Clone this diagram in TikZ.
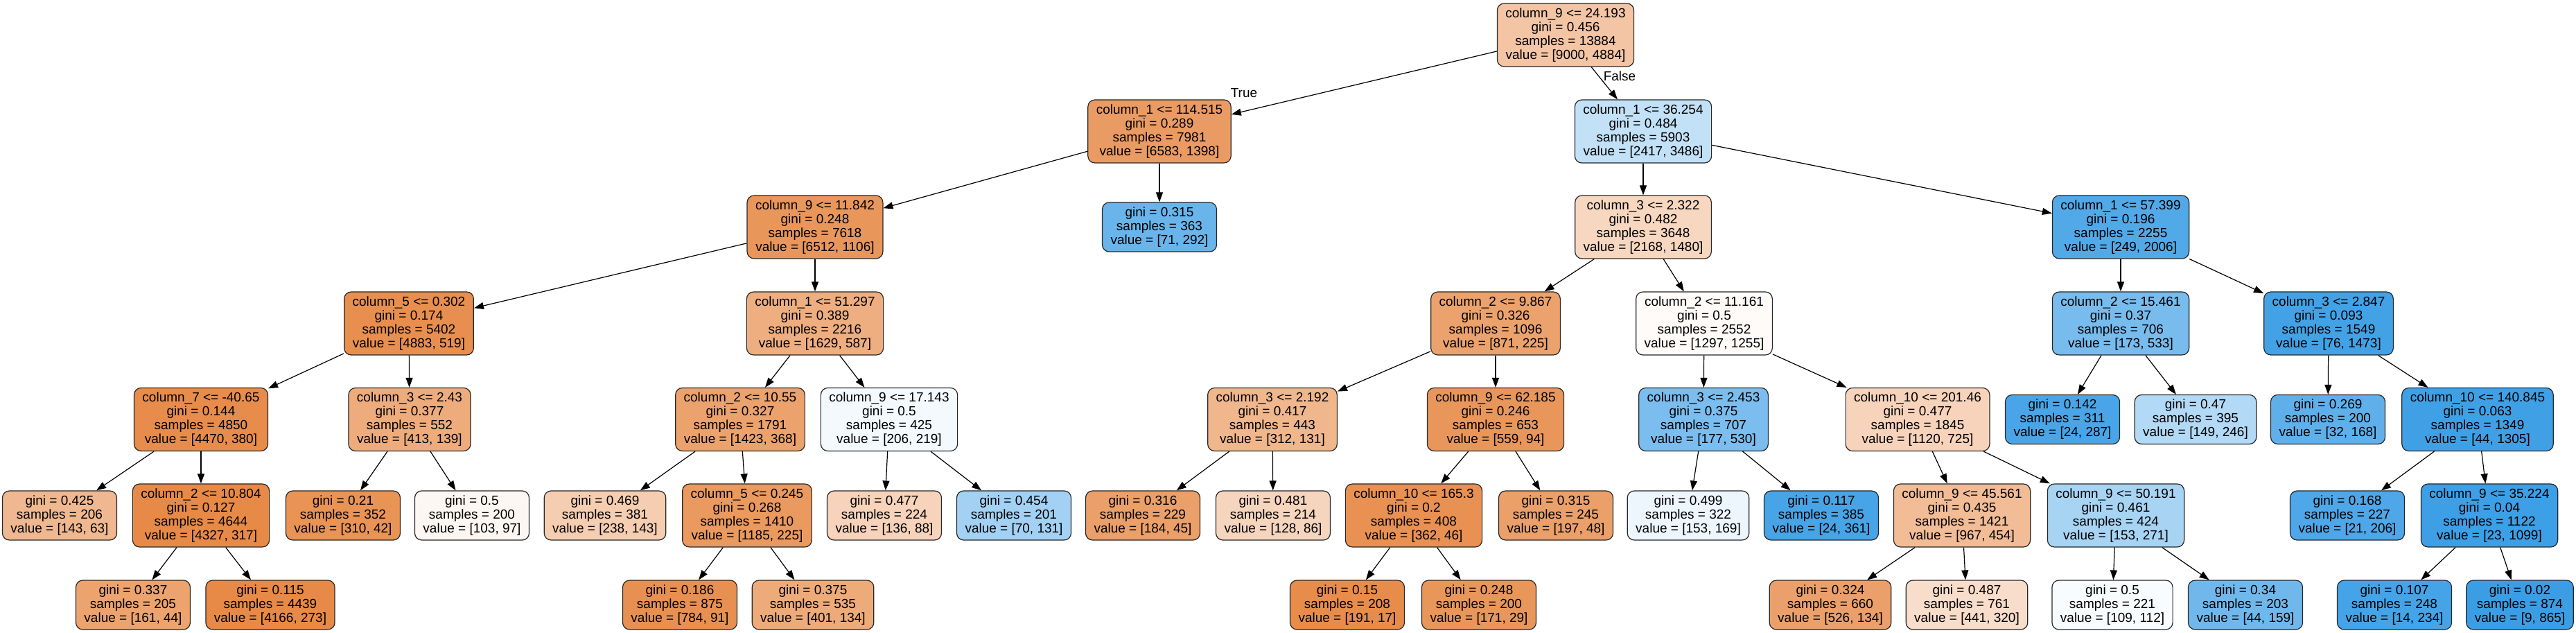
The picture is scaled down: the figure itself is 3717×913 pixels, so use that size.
\documentclass[tikz,border=0pt]{standalone}
\usepackage{fontspec}
\setmainfont{Liberation Sans}
\usetikzlibrary{arrows.meta}
\definecolor{classa}{RGB}{229,129,57}
\definecolor{classb}{RGB}{57,157,229}

\begin{document}
\begin{tikzpicture}[x=0.5pt,y=-0.5pt,>={Triangle[length=7pt,width=5pt]},
                    tree node/.style={rectangle,rounded corners=5pt,draw=black!85,line width=0.6pt,
                      align=center,inner xsep=6pt,inner ysep=1pt,font=\fontsize{9.5}{10}\selectfont},
                    split node/.style={tree node,minimum height=45.5pt,fill=#1},
                    leaf node/.style={tree node,minimum height=35.5pt,fill=#1},
                    edge label/.style={inner sep=0pt,font=\fontsize{9.5}{10}\selectfont}]
\useasboundingbox (0,0) rectangle (3717,913);

% depth 0 and 1
\node[split node=classa!46!white] (r) at (2259,50.5) {column\_9 <= 24.193\\gini = 0.456\\samples = 13884\\value = [9000, 4884]};
\node[split node=classa!79!white] (n1) at (1673,189.5) {column\_1 <= 114.515\\gini = 0.289\\samples = 7981\\value = [6583, 1398]};
\node[split node=classb!31!white] (n2) at (2371,189.5) {column\_1 <= 36.254\\gini = 0.484\\samples = 5903\\value = [2417, 3486]};

% depth 2
\node[split node=classa!83!white] (n3) at (1176,327.5) {column\_9 <= 11.842\\gini = 0.248\\samples = 7618\\value = [6512, 1106]};
\node[leaf node=classb!76!white] (n4) at (1673,327.5) {gini = 0.315\\samples = 363\\value = [71, 292]};
\node[split node=classa!32!white] (n5) at (2371,327.5) {column\_3 <= 2.322\\gini = 0.482\\samples = 3648\\value = [2168, 1480]};
\node[split node=classb!88!white] (n6) at (3060,327.5) {column\_1 <= 57.399\\gini = 0.196\\samples = 2255\\value = [249, 2006]};

% depth 3
\node[split node=classa!89!white] (n7) at (590,466.5) {column\_5 <= 0.302\\gini = 0.174\\samples = 5402\\value = [4883, 519]};
\node[split node=classa!64!white] (n8) at (1176,466.5) {column\_1 <= 51.297\\gini = 0.389\\samples = 2216\\value = [1629, 587]};
\node[split node=classa!74!white] (n9) at (2158,466.5) {column\_2 <= 9.867\\gini = 0.326\\samples = 1096\\value = [871, 225]};
\node[split node=classa!3!white] (n10) at (2459,466.5) {column\_2 <= 11.161\\gini = 0.5\\samples = 2552\\value = [1297, 1255]};
\node[split node=classb!68!white] (n11) at (3060,466.5) {column\_2 <= 15.461\\gini = 0.37\\samples = 706\\value = [173, 533]};
\node[split node=classb!95!white] (n12) at (3360,466.5) {column\_3 <= 2.847\\gini = 0.093\\samples = 1549\\value = [76, 1473]};

% depth 4
\node[split node=classa!91!white] (n13) at (290,605) {column\_7 <= -40.65\\gini = 0.144\\samples = 4850\\value = [4470, 380]};
\node[split node=classa!66!white] (n14) at (591,605) {column\_3 <= 2.43\\gini = 0.377\\samples = 552\\value = [413, 139]};
\node[split node=classa!74!white] (n15) at (1068,605) {column\_2 <= 10.55\\gini = 0.327\\samples = 1791\\value = [1423, 368]};
\node[split node=classb!6!white] (n16) at (1283,605) {column\_9 <= 17.143\\gini = 0.5\\samples = 425\\value = [206, 219]};
\node[split node=classa!58!white] (n17) at (1836,605) {column\_3 <= 2.192\\gini = 0.417\\samples = 443\\value = [312, 131]};
\node[split node=classa!83!white] (n18) at (2158,605) {column\_9 <= 62.185\\gini = 0.246\\samples = 653\\value = [559, 94]};
\node[split node=classb!67!white] (n19) at (2458,605) {column\_3 <= 2.453\\gini = 0.375\\samples = 707\\value = [177, 530]};
\node[split node=classa!35!white] (n20) at (2767,605) {column\_10 <= 201.46\\gini = 0.477\\samples = 1845\\value = [1120, 725]};
\node[leaf node=classb!92!white] (n21) at (2976,605) {gini = 0.142\\samples = 311\\value = [24, 287]};
\node[leaf node=classb!39!white] (n22) at (3168,605) {gini = 0.47\\samples = 395\\value = [149, 246]};
\node[leaf node=classb!81!white] (n23) at (3359,605) {gini = 0.269\\samples = 200\\value = [32, 168]};
\node[split node=classb!97!white] (n24) at (3575,605) {column\_10 <= 140.845\\gini = 0.063\\samples = 1349\\value = [44, 1305]};

% depth 5
\node[leaf node=classa!56!white] (n25) at (86,743.5) {gini = 0.425\\samples = 206\\value = [143, 63]};
\node[split node=classa!93!white] (n26) at (290,743.5) {column\_2 <= 10.804\\gini = 0.127\\samples = 4644\\value = [4327, 317]};
\node[leaf node=classa!86!white] (n27) at (495,743.5) {gini = 0.21\\samples = 352\\value = [310, 42]};
\node[leaf node=classa!6!white] (n28) at (681,743.5) {gini = 0.5\\samples = 200\\value = [103, 97]};
\node[leaf node=classa!40!white] (n29) at (873,743.5) {gini = 0.469\\samples = 381\\value = [238, 143]};
\node[split node=classa!81!white] (n30) at (1078,743.5) {column\_5 <= 0.245\\gini = 0.268\\samples = 1410\\value = [1185, 225]};
\node[leaf node=classa!35!white] (n31) at (1276,743.5) {gini = 0.477\\samples = 224\\value = [136, 88]};
\node[leaf node=classb!47!white] (n32) at (1463,743.5) {gini = 0.454\\samples = 201\\value = [70, 131]};
\node[leaf node=classa!76!white] (n33) at (1649,743.5) {gini = 0.316\\samples = 229\\value = [184, 45]};
\node[leaf node=classa!33!white] (n34) at (1837,743.5) {gini = 0.481\\samples = 214\\value = [128, 86]};
\node[split node=classa!87!white] (n35) at (2040,743.5) {column\_10 <= 165.3\\gini = 0.2\\samples = 408\\value = [362, 46]};
\node[leaf node=classa!76!white] (n36) at (2245,743.5) {gini = 0.315\\samples = 245\\value = [197, 48]};
\node[leaf node=classb!9!white] (n37) at (2436,743.5) {gini = 0.499\\samples = 322\\value = [153, 169]};
\node[leaf node=classb!93!white] (n38) at (2628,743.5) {gini = 0.117\\samples = 385\\value = [24, 361]};
\node[split node=classa!53!white] (n39) at (2831,743.5) {column\_9 <= 45.561\\gini = 0.435\\samples = 1421\\value = [967, 454]};
\node[split node=classb!44!white] (n40) at (3053,743.5) {column\_9 <= 50.191\\gini = 0.461\\samples = 424\\value = [153, 271]};
\node[leaf node=classb!90!white] (n41) at (3387,743.5) {gini = 0.168\\samples = 227\\value = [21, 206]};
\node[split node=classb!98!white] (n42) at (3592,743.5) {column\_9 <= 35.224\\gini = 0.04\\samples = 1122\\value = [23, 1099]};

% depth 6
\node[leaf node=classa!73!white] (n43) at (192,872.5) {gini = 0.337\\samples = 205\\value = [161, 44]};
\node[leaf node=classa!93!white] (n44) at (390,872.5) {gini = 0.115\\samples = 4439\\value = [4166, 273]};
\node[leaf node=classa!88!white] (n45) at (981,872.5) {gini = 0.186\\samples = 875\\value = [784, 91]};
\node[leaf node=classa!67!white] (n46) at (1173,872.5) {gini = 0.375\\samples = 535\\value = [401, 134]};
\node[leaf node=classa!91!white] (n47) at (1944,872.5) {gini = 0.15\\samples = 208\\value = [191, 17]};
\node[leaf node=classa!83!white] (n48) at (2134,872.5) {gini = 0.248\\samples = 200\\value = [171, 29]};
\node[leaf node=classa!75!white] (n49) at (2641,872.5) {gini = 0.324\\samples = 660\\value = [526, 134]};
\node[leaf node=classa!27!white] (n50) at (2838,872.5) {gini = 0.487\\samples = 761\\value = [441, 320]};
\node[leaf node=classb!3!white] (n51) at (3048,872.5) {gini = 0.5\\samples = 221\\value = [109, 112]};
\node[leaf node=classb!72!white] (n52) at (3240,872.5) {gini = 0.34\\samples = 203\\value = [44, 159]};
\node[leaf node=classb!94!white] (n53) at (3455,872.5) {gini = 0.107\\samples = 248\\value = [14, 234]};
\node[leaf node=classb!99!white] (n54) at (3636,872.5) {gini = 0.02\\samples = 874\\value = [9, 865]};

\node[edge label] (lt) at (1795,134) {True};
\node[edge label] (lf) at (2337,110) {False};

\path[->,line width=0.6pt]
  (r) edge (n1)
      edge (n2)
  (n1) edge (n3)
       edge (n4)
  (n2) edge (n5)
       edge (n6)
  (n3) edge (n7)
       edge (n8)
  (n5) edge (n9)
       edge (n10)
  (n6) edge (n11)
       edge (n12)
  (n7) edge (n13)
       edge (n14)
  (n8) edge (n15)
       edge (n16)
  (n9) edge (n17)
       edge (n18)
  (n10) edge (n19)
        edge (n20)
  (n11) edge (n21)
        edge (n22)
  (n12) edge (n23)
        edge (n24)
  (n13) edge (n25)
        edge (n26)
  (n14) edge (n27)
        edge (n28)
  (n15) edge (n29)
        edge (n30)
  (n16) edge (n31)
        edge (n32)
  (n17) edge (n33)
        edge (n34)
  (n18) edge (n35)
        edge (n36)
  (n19) edge (n37)
        edge (n38)
  (n20) edge (n39)
        edge (n40)
  (n24) edge (n41)
        edge (n42)
  (n26) edge (n43)
        edge (n44)
  (n30) edge (n45)
        edge (n46)
  (n35) edge (n47)
        edge (n48)
  (n39) edge (n49)
        edge (n50)
  (n40) edge (n51)
        edge (n52)
  (n42) edge (n53)
        edge (n54);

\end{tikzpicture}
\end{document}
